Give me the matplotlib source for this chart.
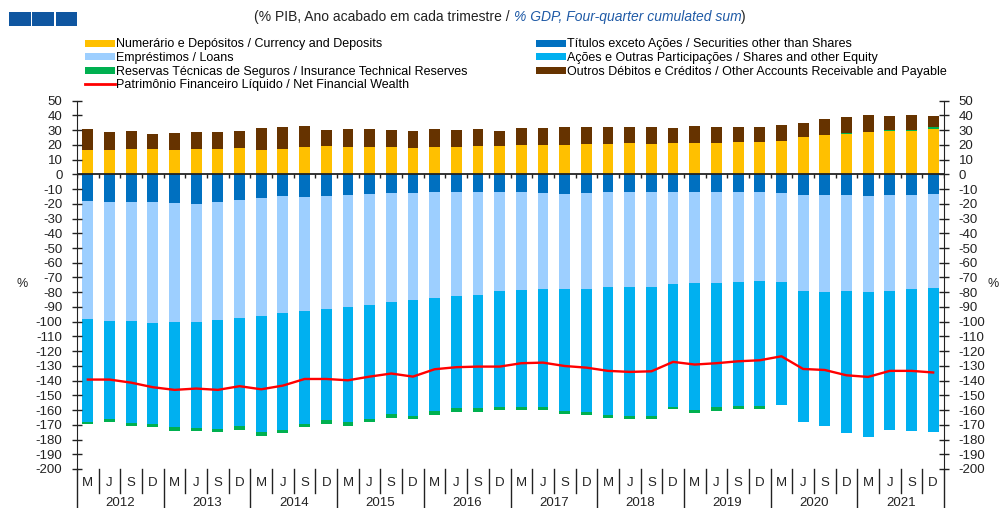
import numpy as np
import matplotlib
matplotlib.use("Agg")
import matplotlib.pyplot as plt
from matplotlib.patches import Patch, Rectangle
from matplotlib.lines import Line2D

plt.rcParams['font.family'] = ['Liberation Sans', 'DejaVu Sans']
plt.rcParams['axes.unicode_minus'] = False

years = [2012, 2013, 2014, 2015, 2016, 2017, 2018, 2019, 2020, 2021]
quarters = ['M', 'J', 'S', 'D']

# % of GDP, four-quarter cumulated sum (Mar 2012 .. Dec 2021)
currency = [16.3, 16.3, 17.4, 17.4, 16.3, 17.0, 17.4, 17.9, 16.5, 17.0,
            18.3, 19.2, 18.6, 18.3, 18.3, 17.9, 18.6, 18.6, 19.2, 19.2,
            20.1, 19.7, 20.1, 20.6, 20.6, 21.0, 20.6, 21.0, 21.0, 21.0,
            21.9, 21.9, 22.4, 25.3, 26.7, 27.5, 28.5, 29.4, 29.7, 30.9]
other_accounts = [14.2, 12.2, 12.2, 9.7, 11.8, 12.0, 11.1, 11.7, 14.9, 14.9,
                  14.5, 10.9, 11.9, 12.2, 11.8, 11.7, 11.9, 11.5, 11.3, 10.4,
                  11.3, 11.7, 11.8, 11.3, 11.3, 10.9, 11.3, 10.4, 11.8, 10.9,
                  10.5, 10.0, 11.1, 9.6, 10.4, 10.7, 11.6, 9.5, 9.7, 7.9]
securities = [-18.1, -18.6, -18.6, -19.0, -19.7, -20.4, -19.0, -17.6, -16.3, -14.5,
              -15.2, -14.7, -14.0, -13.6, -12.7, -12.7, -12.2, -11.8, -11.8, -11.8,
              -12.2, -12.7, -13.1, -12.7, -11.8, -11.8, -12.2, -11.8, -11.8, -11.8,
              -11.8, -12.2, -12.7, -14.0, -13.8, -14.0, -14.5, -14.0, -14.0, -13.6]
loans = [-80.2, -80.9, -80.9, -82.1, -80.2, -80.0, -79.6, -80.1, -79.8, -79.8,
         -77.5, -76.8, -76.2, -75.2, -74.1, -72.7, -71.4, -70.9, -70.0, -67.7,
         -66.2, -65.3, -64.9, -65.3, -64.8, -64.8, -64.0, -62.5, -62.1, -62.1,
         -61.0, -60.1, -60.1, -65.1, -66.2, -65.5, -65.7, -65.1, -64.0, -63.7]
shares = [-69.5, -66.8, -69.0, -68.6, -71.8, -71.7, -74.0, -72.9, -79.0, -79.0,
          -76.7, -75.2, -77.6, -77.0, -75.8, -78.6, -77.0, -76.1, -77.0, -78.2,
          -79.7, -80.1, -82.6, -83.5, -86.7, -87.4, -87.8, -83.4, -86.0, -84.2,
          -84.4, -84.9, -83.9, -89.0, -90.8, -96.3, -98.3, -94.4, -96.0, -97.6]
insurance = [-1.9, -2.0, -2.1, -1.8, -2.7, -2.3, -2.3, -2.7, -2.5, -2.2,
             -2.1, -2.7, -2.8, -2.5, -2.8, -2.3, -2.5, -2.5, -2.7, -2.2,
             -1.8, -1.8, -1.8, -1.8, -2.1, -2.0, -1.8, -1.8, -2.1, -2.3,
             -2.3, -2.0, 0.0, 0.1, 0.2, 0.5, 0.4, 0.5, 0.6, 1.0]
net_wealth = [-139.3, -139.3, -141.4, -144.5, -146.3, -145.4, -146.3, -143.8, -145.9, -143.4,
              -138.9, -138.9, -139.8, -137.3, -135.2, -137.3, -132.3, -130.9, -130.5, -130.5,
              -128.2, -127.8, -130.1, -131.2, -133.4, -134.1, -133.7, -127.3, -129.1, -128.2,
              -126.9, -126.2, -123.5, -132.1, -132.8, -136.4, -137.5, -133.4, -133.4, -134.5]

labels = {
    'currency': 'Numerário e Depósitos / Currency and Deposits',
    'loans': 'Empréstimos / Loans',
    'insurance': 'Reservas Técnicas de Seguros / Insurance Technical Reserves',
    'net': 'Patrimônio Financeiro Líquido / Net Financial Wealth',
    'securities': 'Títulos exceto Ações / Securities other than Shares',
    'shares': 'Ações e Outras Participações / Shares and other Equity',
    'other': 'Outros Débitos e Créditos / Other Accounts Receivable and Payable',
}
colors = {
    'currency': '#FFC000', 'loans': '#9DCFFF', 'insurance': '#00B050',
    'net': '#FF0000', 'securities': '#0070C0', 'shares': '#00B0F0',
    'other': '#663300',
}

currency = np.array(currency)
other_accounts = np.array(other_accounts)
securities = np.array(securities)
loans = np.array(loans)
shares = np.array(shares)
insurance = np.array(insurance)
x = np.arange(len(currency))

fig = plt.figure(figsize=(10, 5.08), dpi=100)
ax = fig.add_axes([0.077, 0.0768, 0.867, 0.725])

w = 0.5
# positive side: currency, then insurance (when positive), then other accounts
ax.bar(x, currency, w, color=colors['currency'])
ins_pos = np.clip(insurance, 0, None)
ax.bar(x, ins_pos, w, bottom=currency, color=colors['insurance'])
ax.bar(x, other_accounts, w, bottom=currency + ins_pos, color=colors['other'])
# negative side
ax.bar(x, securities, w, color=colors['securities'])
ax.bar(x, loans, w, bottom=securities, color=colors['loans'])
neg_base = securities + loans
ax.bar(x, shares, w, bottom=neg_base, color=colors['shares'])
neg_base = neg_base + shares
ins_neg = np.clip(insurance, None, 0)
ax.bar(x, ins_neg, w, bottom=neg_base, color=colors['insurance'])

ax.plot(x, net_wealth, color=colors['net'], lw=1.7, zorder=4)

# zero line with small tick marks between categories
ax.axhline(0, color='#222222', lw=1.3, zorder=3)
bounds = np.arange(-0.5, len(x), 1.0)
ax.plot(bounds, np.zeros(len(bounds)), ls='none', marker=3, ms=3,
        color='#222222', mew=1, zorder=3)

ax.set_xlim(-0.5, len(x) - 0.5)
ax.set_ylim(-200, 50)
ax.set_yticks(np.arange(-200, 51, 10))
ax.set_xticks([])
for s in ['top', 'bottom']:
    ax.spines[s].set_visible(False)
for s in ['left', 'right']:
    ax.spines[s].set_color('#222222')
ax.tick_params(axis='y', which='major', direction='inout', length=7,
               width=1, color='#222222', labelsize=9.5, pad=7,
               right=True, labelright=True, labelcolor='#222222')

# category axis: quarter letters, year labels and separators
tr = ax.get_xaxis_transform()
for i in range(len(x)):
    ax.text(x[i], -0.038, quarters[i % 4], transform=tr, ha='center',
            va='center', fontsize=9.5, color='#222222')
for k, yr in enumerate(years):
    ax.text(4 * k + 1.5, -0.092, str(yr), transform=tr, ha='center',
            va='center', fontsize=9.5, color='#222222')
for b in bounds:
    low = -0.11 if (b + 0.5) % 4 == 0 else -0.066
    ax.plot([b, b], [0, low], transform=tr, color='#222222', lw=1,
            clip_on=False)

fig.text(0.022, 0.44, '%', fontsize=9, color='#222222', ha='center',
         va='center')
fig.text(0.999, 0.44, '%', fontsize=9, color='#222222', ha='right',
         va='center')

# header boxes
for k in range(3):
    fig.patches.append(Rectangle((0.009 + k * 0.0233, 1 - 26 / 508), 0.0218,
                                 14 / 508, transform=fig.transFigure,
                                 facecolor='#0F56A0', edgecolor='none'))

t1 = fig.text(0.254, 1 - 17 / 508, '(% PIB, Ano acabado em cada trimestre / ',
              fontsize=10, color='#222222', ha='left', va='center')
t2 = ax.annotate('% GDP, Four-quarter cumulated sum', xy=(1, 0),
                 xycoords=t1, ha='left', va='bottom', fontsize=10,
                 style='italic', color='#1F5AA6', annotation_clip=False)
ax.annotate(')', xy=(1, 0), xycoords=t2, ha='left', va='bottom',
            fontsize=10, color='#222222', annotation_clip=False)

# legend in two columns
def handle(key):
    if key == 'net':
        return Line2D([], [], color=colors[key], lw=2)
    return Patch(facecolor=colors[key], edgecolor='none')

leg_kw = dict(frameon=False, fontsize=9, handlelength=2.4,
              handleheight=0.5, handletextpad=0.1, labelspacing=0.12,
              borderpad=0, borderaxespad=0, loc='upper left')
left_keys = ['currency', 'loans', 'insurance', 'net']
right_keys = ['securities', 'shares', 'other']
fig.legend([handle(k) for k in left_keys], [labels[k] for k in left_keys],
           bbox_to_anchor=(0.085, 1 - 38.5 / 508), **leg_kw)
fig.legend([handle(k) for k in right_keys], [labels[k] for k in right_keys],
           bbox_to_anchor=(0.536, 1 - 38.5 / 508), **leg_kw)

fig.savefig('out.png', dpi=100)
